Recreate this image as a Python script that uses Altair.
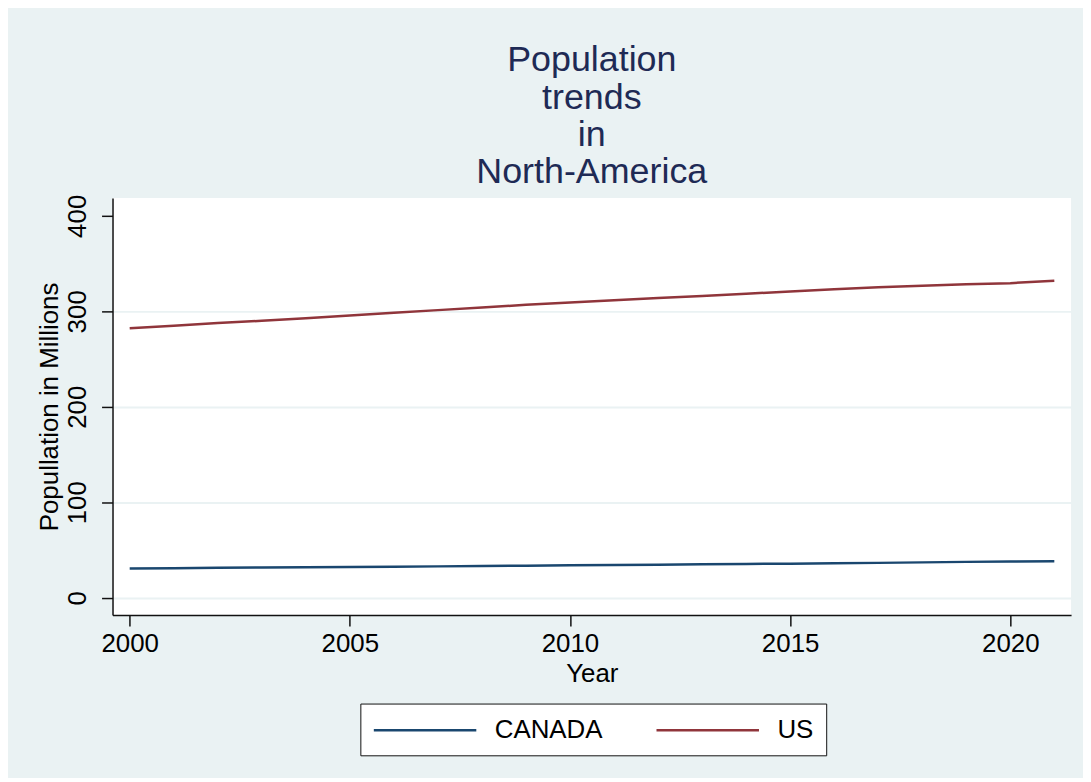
import altair as alt
import pandas as pd

years = list(range(2000, 2022))
canada = [30.69, 31.02, 31.36, 31.64, 31.94, 32.24, 32.57, 32.89, 33.25, 33.63, 34.00,
          34.34, 34.71, 35.08, 35.44, 35.70, 36.11, 36.55, 37.07, 37.60, 38.01, 38.25]
us = [282.16, 284.97, 287.63, 290.11, 292.81, 295.52, 298.38, 301.23, 304.09, 306.77, 309.33,
      311.58, 313.88, 316.06, 318.39, 320.74, 323.07, 325.12, 326.84, 328.33, 329.48, 331.89]
series = ["CANADA", "US"]
x_ticks = [2000, 2005, 2010, 2015, 2020]
y_ticks = [0, 100, 200, 300, 400]

rows = []
for name, vals in zip(series, [canada, us]):
    for yr, v in zip(years, vals):
        rows.append({"Year": yr, "Population": v, "Country": name})
df = pd.DataFrame(rows)

FONT = "Liberation Sans"
BG = "#EAF2F3"

chart = alt.Chart(df).mark_line(strokeWidth=2.5).encode(
    x=alt.X("Year:Q",
            scale=alt.Scale(domain=[1999.61, 2021.38], nice=False, zero=False),
            axis=alt.Axis(values=x_ticks, format="d", title="Year", grid=False,
                          labelFontSize=26, titleFontSize=26, labelFont=FONT, titleFont=FONT,
                          labelColor="black", titleColor="black", titleFontWeight="normal",
                          tickSize=11, tickColor="#111", tickWidth=1.5,
                          domainColor="#111", domainWidth=1.5,
                          labelPadding=5, titlePadding=4, labelFlush=False)),
    y=alt.Y("Population:Q",
            scale=alt.Scale(domain=[-18, 418.75], nice=False, zero=False),
            axis=alt.Axis(values=y_ticks, title="Popullation in Millions",
                          grid=True,
                          gridColor={"condition": {"test": "datum.value >= 400", "value": "transparent"},
                                     "value": BG},
                          gridWidth=2,
                          labelAngle=-90, labelAlign="center", labelBaseline="bottom",
                          labelFontSize=26, titleFontSize=26, labelFont=FONT, titleFont=FONT,
                          labelColor="black", titleColor="black", titleFontWeight="normal",
                          tickSize=11, tickColor="#111", tickWidth=1.5,
                          domainColor="#111", domainWidth=1.5,
                          labelPadding=11, titlePadding=2, labelFlush=False)),
    color=alt.Color("Country:N",
                    scale=alt.Scale(domain=series, range=["#1a476f", "#90353b"]),
                    legend=alt.Legend(orient="none", legendX=249, legendY=508,
                                      direction="horizontal", title=None,
                                      symbolType="M-3.96,0H3.96", symbolSize=676,
                                      symbolStrokeWidth=2.5, symbolOffset=38.5,
                                      labelFontSize=26, labelFont=FONT, labelColor="black",
                                      labelOffset=55.5, columnPadding=48, padding=12,
                                      strokeColor="#111", fillColor="white",
                                      cornerRadius=0, labelLimit=400)),
).properties(
    width=963,
    height=419,
    title=alt.TitleParams(text=["Population", "trends", "in", "North-America"],
                          fontSize=36, font=FONT, fontWeight="normal", color="#1e2a55",
                          anchor="middle", lineHeight=37.5, baseline="bottom", offset=4, dy=37),
    background=BG,
    padding={"left": 105, "top": 189, "right": 12, "bottom": 162},
    autosize=alt.AutoSizeParams(type="none"),
).configure_view(fill="white", strokeWidth=0)

chart.save("out.html", embed_options={"renderer": "svg", "actions": False})
